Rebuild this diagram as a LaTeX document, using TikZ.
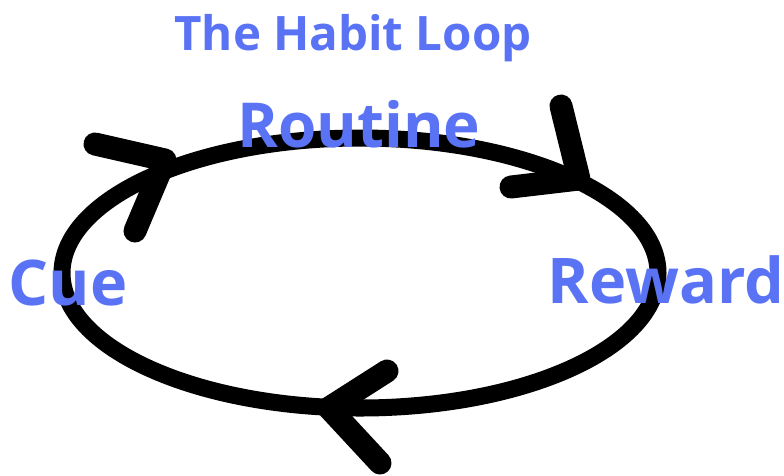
\documentclass[tikz,border=0pt]{standalone}
\usepackage{fontspec}
\setmainfont{Open Sans}
\definecolor{habitblue}{RGB}{90,115,245}
\tikzset{
  loopline/.style={line width=17pt, draw=black},
  chevron/.style={line width=23pt, draw=black, line cap=round, line join=round},
  lbl/.style={text=habitblue, font=\bfseries, anchor=base, inner sep=0pt},
}
\begin{document}
\begin{tikzpicture}[x=1pt,y=-1pt]
\useasboundingbox (0,0) rectangle (784,475);
% loop
\draw[loopline] (360,273) ellipse [x radius=298, y radius=135];
% arrowheads
\coordinate (tlA) at (95,144);
\coordinate (tlT) at (165,160);
\coordinate (tlB) at (135,231);
\draw[chevron] (tlA) -- (tlT) -- (tlB);
\coordinate (trA) at (561,106);
\coordinate (trT) at (579,179);
\coordinate (trB) at (511,187);
\draw[chevron] (trA) -- (trT) -- (trB);
\coordinate (bA) at (387,371);
\coordinate (bT) at (329,408);
\coordinate (bB) at (380,463);
\draw[chevron] (bA) -- (bT) -- (bB);
% labels
\node[lbl, font=\bfseries\fontsize{47.5}{52}\selectfont] (title) at (353,50) {The Habit Loop};
\node[lbl, font=\bfseries\fontsize{62}{66}\selectfont] (routine) at (359,147) {Routine};
\node[lbl, font=\bfseries\fontsize{63}{68}\selectfont] (cue) at (68,305) {Cue};
\node[lbl, font=\bfseries\fontsize{63}{67}\selectfont] (reward) at (666,303) {Reward};
\end{tikzpicture}
\end{document}
